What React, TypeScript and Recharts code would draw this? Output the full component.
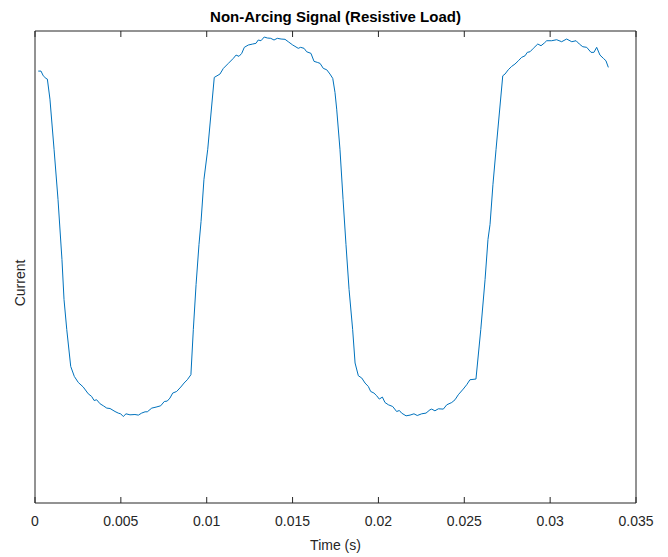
import React from "react";
import { LineChart, Line, XAxis, YAxis } from "recharts";

// time (s)
const times = [
  0.00019, 0.00035, 0.00048, 0.00064, 0.00072, 0.00087, 0.00111, 0.00134, 0.00157, 0.00169,
  0.00185, 0.00208, 0.00229, 0.00252, 0.00281, 0.0031, 0.0033, 0.00344, 0.00359, 0.00379,
  0.00398, 0.00418, 0.00437, 0.00466, 0.00485, 0.00499, 0.00514, 0.0053, 0.00553, 0.00582,
  0.00602, 0.00621, 0.00641, 0.00654, 0.0068, 0.00705, 0.00732, 0.00753, 0.0077, 0.00786,
  0.00802, 0.00825, 0.00849, 0.00868, 0.00887, 0.00908, 0.00922, 0.00938, 0.00955, 0.00967,
  0.00984, 0.01006, 0.01044, 0.01077, 0.01097, 0.01126, 0.01155, 0.01171, 0.01188, 0.01204,
  0.01219, 0.01242, 0.01268, 0.01287, 0.013, 0.01316, 0.01335, 0.01353, 0.01373, 0.01392,
  0.01411, 0.01433, 0.01456, 0.01475, 0.01501, 0.01514, 0.01533, 0.01547, 0.01567, 0.01582,
  0.01607, 0.01625, 0.01644, 0.0166, 0.01679, 0.01699, 0.01718, 0.01734, 0.01747, 0.01757,
  0.01776, 0.01794, 0.01811, 0.01829, 0.0185, 0.01864, 0.01883, 0.01903, 0.01922, 0.01941,
  0.01955, 0.01974, 0.0199, 0.02005, 0.02023, 0.02038, 0.02058, 0.02083, 0.02106, 0.02122,
  0.02135, 0.02161, 0.02184, 0.02207, 0.02226, 0.02252, 0.02277, 0.023, 0.0231, 0.02329,
  0.02349, 0.02378, 0.02398, 0.02427, 0.02446, 0.02465, 0.02494, 0.02514, 0.02533, 0.02568,
  0.02596, 0.02621, 0.02638, 0.0265, 0.02667, 0.02685, 0.02724, 0.02737, 0.02756, 0.02776,
  0.02795, 0.02815, 0.02834, 0.02854, 0.02867, 0.02883, 0.02902, 0.02928, 0.02947, 0.02966,
  0.0298, 0.03009, 0.03038, 0.03067, 0.03096, 0.03126, 0.03151, 0.0317, 0.0319, 0.03213,
  0.03238, 0.03255, 0.03271, 0.0329, 0.0331, 0.03325, 0.03339,
];

// current, arbitrary units (axis has no labels)
const current = [
  1.555, 1.555, 1.508, 1.482, 1.475, 1.275, 0.775, 0.275, -0.325, -0.725,
  -1.025, -1.392, -1.492, -1.552, -1.598, -1.665, -1.692, -1.732, -1.725, -1.765,
  -1.785, -1.808, -1.812, -1.842, -1.858, -1.865, -1.892, -1.865, -1.875, -1.872,
  -1.878, -1.858, -1.845, -1.845, -1.808, -1.798, -1.785, -1.742, -1.738, -1.708,
  -1.658, -1.642, -1.598, -1.558, -1.525, -1.475, -1.025, -0.575, -0.175, 0.055,
  0.475, 0.775, 1.492, 1.525, 1.582, 1.632, 1.682, 1.715, 1.702, 1.732,
  1.792, 1.815, 1.825, 1.832, 1.865, 1.858, 1.895, 1.885, 1.882, 1.865,
  1.882, 1.875, 1.872, 1.848, 1.815, 1.802, 1.782, 1.792, 1.782, 1.748,
  1.732, 1.652, 1.642, 1.632, 1.582, 1.568, 1.525, 1.482, 1.342, 1.175,
  0.775, 0.275, -0.175, -0.625, -1.025, -1.358, -1.485, -1.508, -1.558, -1.592,
  -1.642, -1.658, -1.685, -1.718, -1.698, -1.752, -1.775, -1.792, -1.842, -1.832,
  -1.858, -1.885, -1.878, -1.865, -1.882, -1.865, -1.858, -1.825, -1.818, -1.835,
  -1.815, -1.818, -1.775, -1.752, -1.725, -1.675, -1.618, -1.575, -1.525, -1.518,
  -1.025, -0.525, -0.125, 0.025, 0.425, 0.775, 1.508, 1.525, 1.568, 1.602,
  1.625, 1.658, 1.692, 1.708, 1.742, 1.748, 1.782, 1.825, 1.808, 1.835,
  1.858, 1.858, 1.868, 1.848, 1.875, 1.848, 1.858, 1.825, 1.798, 1.792,
  1.742, 1.742, 1.792, 1.715, 1.682, 1.658, 1.592,
];

const xTicks = [0, 0.005, 0.01, 0.015, 0.02, 0.025, 0.03, 0.035];
const xDomain: [number, number] = [0, 0.035];
const yDomain: [number, number] = [-2.755, 1.955];

const data = times.map((t, i) => ({ t, i: current[i] }));

const AXIS = "#262626";
const FONT = "'Liberation Sans', Arial, Helvetica, sans-serif";
const TICK_LEN = 6;
const LABEL_GAP = 13;

// inward tick + label below (matlab style)
function BottomTick(props: any) {
  const { x, y, payload } = props;
  const axisY = y - LABEL_GAP;
  return (
    <g>
      <line x1={x} x2={x} y1={axisY} y2={axisY - TICK_LEN} stroke={AXIS} />
      <text x={x} y={y} dy="0.71em" textAnchor="middle" fontSize={14} fill={AXIS} fontFamily={FONT}>
        {String(payload.value)}
      </text>
    </g>
  );
}

export default function App() {
  return (
    <div style={{ position: "absolute", left: 0, top: 0, width: 668, height: 557, fontFamily: FONT }}>
      <LineChart width={668} height={557} data={data} margin={{ top: 31, right: 31, bottom: 24, left: 34 }}>
        <XAxis
          dataKey="t"
          type="number"
          domain={xDomain}
          ticks={xTicks}
          height={30}
          stroke={AXIS}
          tickLine={false}
          tickSize={0}
          tickMargin={LABEL_GAP}
          tick={BottomTick}
          interval={0}
          allowDataOverflow
        />
        <XAxis
          xAxisId="top"
          orientation="top"
          mirror
          dataKey="t"
          type="number"
          domain={xDomain}
          ticks={xTicks}
          height={1}
          stroke={AXIS}
          tickSize={TICK_LEN}
          tickLine={{ stroke: AXIS }}
          tickFormatter={() => ""}
          interval={0}
          allowDataOverflow
        />
        <YAxis type="number" domain={yDomain} width={1} tick={false} tickLine={false} stroke={AXIS} allowDataOverflow />
        <YAxis
          yAxisId="right"
          orientation="right"
          type="number"
          domain={yDomain}
          width={1}
          tick={false}
          tickLine={false}
          stroke={AXIS}
        />
        <Line
          type="linear"
          dataKey="i"
          stroke="#0072BD"
          strokeWidth={1}
          dot={false}
          isAnimationActive={false}
        />
      </LineChart>
      <div
        style={{
          position: "absolute",
          left: 35,
          width: 601,
          top: 8,
          textAlign: "center",
          fontWeight: "bold",
          fontSize: 15,
          color: "#000",
        }}
      >
        Non-Arcing Signal (Resistive Load)
      </div>
      <div
        style={{
          position: "absolute",
          left: 35,
          width: 601,
          top: 537,
          textAlign: "center",
          fontSize: 14,
          color: AXIS,
        }}
      >
        Time (s)
      </div>
      <div
        style={{
          position: "absolute",
          left: 20,
          top: 283,
          fontSize: 14,
          color: AXIS,
          transform: "translate(-50%, -50%) rotate(-90deg)",
          whiteSpace: "nowrap",
        }}
      >
        Current
      </div>
    </div>
  );
}
